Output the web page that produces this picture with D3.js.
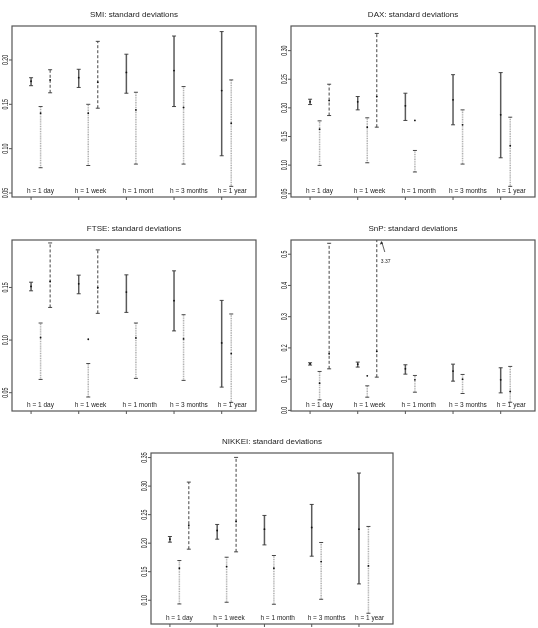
<!DOCTYPE html>
<html>
<head>
<meta charset="utf-8">
<script src="https://cdn.jsdelivr.net/npm/d3@7"></script>
<style>
body { margin: 0; background: #fff; }
svg { display: block; will-change: transform; opacity: 0.999; }
text { font-family: "Liberation Sans", Arial, sans-serif; fill: #222; }
</style>
</head>
<body>
<script>
var width = 538, height = 628;

// horizon labels (SMI panel has the truncated one)
var horizons = ['h = 1 day', 'h = 1 week', 'h = 1 month', 'h = 3 months', 'h = 1 year'];
var smiHorizons = ['h = 1 day', 'h = 1 week', 'h = 1 mont', 'h = 3 months', 'h = 1 year'];

// each entry: [estimate, lower, upper], null = no bar
var smiSolid  = [[0.176, 0.171, 0.180], [0.180, 0.169, 0.1895], [0.186, 0.1625, 0.2065], [0.188, 0.1475, 0.227], [0.1655, 0.092, 0.232]];
var smiDotted = [[0.140, 0.0785, 0.1475], [0.140, 0.081, 0.150], [0.1437, 0.0826, 0.1636], [0.1464, 0.0826, 0.170], [0.1287, 0.0575, 0.1775]];
var smiDashed = [[0.1775, 0.163, 0.189], [0.175, 0.1456, 0.221], null, null, null];
var smiTicks  = [0.05, 0.10, 0.15, 0.20];

var daxSolid  = [[0.2105, 0.2058, 0.2151], [0.2105, 0.1965, 0.2198], [0.2035, 0.178, 0.2256], [0.214, 0.1704, 0.258], [0.1878, 0.1128, 0.2616]];
var daxDotted = [[0.1628, 0.0995, 0.1773], [0.1663, 0.1041, 0.1826], [0.178, 0.088, 0.1256], [0.1704, 0.1018, 0.1965], [0.1338, 0.0629, 0.1837]];
var daxDashed = [[0.2128, 0.1866, 0.2413], [0.2198, 0.1663, 0.330], null, null, null];
var daxTicks  = [0.05, 0.10, 0.15, 0.20, 0.25, 0.30];

var ftseSolid  = [[0.151, 0.1468, 0.155], [0.1535, 0.144, 0.1617], [0.1456, 0.1263, 0.162], [0.1374, 0.1087, 0.1658], [0.0973, 0.0553, 0.1377]];
var ftseDotted = [[0.1024, 0.0626, 0.1162], [0.1008, 0.0459, 0.0777], [0.102, 0.0636, 0.1162], [0.1011, 0.0617, 0.1241], [0.0872, 0.0408, 0.1248]];
var ftseDashed = [[0.1557, 0.131, 0.1923], [0.1497, 0.1254, 0.1857], null, null, null];
var ftseTicks  = [0.05, 0.10, 0.15];

var snpSolid  = [[0.149, 0.145, 0.1525], [0.148, 0.1386, 0.1546], [0.133, 0.116, 0.146], [0.1257, 0.0936, 0.148], [0.0979, 0.056, 0.1364]];
var snpDotted = [[0.087, 0.0336, 0.1246], [0.1107, 0.0422, 0.0786], [0.0979, 0.0582, 0.1118], [0.10, 0.054, 0.115], [0.0604, 0.026, 0.1407]];
var snpDashed = [[0.181, 0.133, 0.535], [0.189, 0.1064, 3.37], null, null, null];
var snpTicks  = [0.0, 0.1, 0.2, 0.3, 0.4, 0.5];

var nikSolid  = [[0.207, 0.2018, 0.2117], [0.2222, 0.207, 0.2328], [0.2246, 0.197, 0.2486], [0.2275, 0.1772, 0.2679], [0.2246, 0.1286, 0.3229]];
var nikDotted = [[0.1561, 0.0935, 0.1696], [0.159, 0.0965, 0.1754], [0.1561, 0.093, 0.1784], [0.1678, 0.1017, 0.2012], [0.1602, 0.0772, 0.2293]];
var nikDashed = [[0.2316, 0.1895, 0.307], [0.238, 0.1848, 0.3503], null, null, null];
var nikTicks  = [0.10, 0.15, 0.20, 0.25, 0.30, 0.35];

// line styles of the three estimators
var styles = [
  {off: 0,   color: '#5a5a5a', width: 1.5, dash: null},
  {off: 0.2, color: '#b0b0b0', width: 1.5, dash: '1,0.7'},
  {off: 0.4, color: '#444',    width: 1,   dash: '3,2'}
];

var panels = [
  {title: 'SMI: standard deviations', labels: smiHorizons, ticks: smiTicks, fmt: '.2f', domain: [0.0455, 0.2383], box: [12, 26, 256, 197], data: [smiSolid, smiDotted, smiDashed]},
  {title: 'DAX: standard deviations', labels: horizons, ticks: daxTicks, fmt: '.2f', domain: [0.0443, 0.343], box: [291, 26, 535, 197], data: [daxSolid, daxDotted, daxDashed]},
  {title: 'FTSE: standard deviations', labels: horizons, ticks: ftseTicks, fmt: '.2f', domain: [0.0326, 0.1951], box: [12, 240, 256, 411], data: [ftseSolid, ftseDotted, ftseDashed]},
  {title: 'SnP: standard deviations', labels: horizons, ticks: snpTicks, fmt: '.1f', domain: [-0.002, 0.5455], box: [291, 240, 535, 411], data: [snpSolid, snpDotted, snpDashed]},
  {title: 'NIKKEI: standard deviations', labels: horizons, ticks: nikTicks, fmt: '.2f', domain: [0.0584, 0.358], box: [151, 453, 393, 624], data: [nikSolid, nikDotted, nikDashed]}
];

var svg = d3.select('body').append('svg').attr('width', width).attr('height', height);
svg.append('rect').attr('width', width).attr('height', height).attr('fill', '#fff');

panels.forEach(function(p) {
  var x = d3.scaleLinear().domain([0.6, 5.72]).range([p.box[0], p.box[2]]);
  var y = d3.scaleLinear().domain(p.domain).range([p.box[3], p.box[1]]);
  var g = svg.append('g');
  var top = y.range()[1], bottom = y.range()[0];

  // title
  g.append('text')
    .attr('x', (p.box[0] + p.box[2]) / 2).attr('y', p.box[1] - 9)
    .attr('text-anchor', 'middle').style('font-size', '8px')
    .text(p.title);

  // frame
  g.append('rect')
    .attr('x', p.box[0]).attr('y', top)
    .attr('width', p.box[2] - p.box[0]).attr('height', bottom - top)
    .attr('fill', 'none').attr('stroke', '#555').attr('stroke-width', 1.2);

  // y axis ticks and rotated labels
  var yt = g.selectAll('.yt').data(p.ticks).join('g').attr('class', 'yt');
  yt.append('line')
    .attr('x1', p.box[0] - 3).attr('x2', p.box[0])
    .attr('y1', function(d) { return y(d); }).attr('y2', function(d) { return y(d); })
    .attr('stroke', '#555');
  yt.append('text')
    .attr('transform', function(d) { return 'translate(' + (p.box[0] - 4) + ',' + y(d) + ') rotate(-90) scale(0.62,1)'; })
    .attr('text-anchor', 'middle').style('font-size', '8.5px')
    .text(function(d) { return d3.format(p.fmt)(d); });

  // x ticks at the groups
  g.selectAll('.xt').data(d3.range(1, 6)).join('line').attr('class', 'xt')
    .attr('x1', function(d) { return x(d); }).attr('x2', function(d) { return x(d); })
    .attr('y1', bottom).attr('y2', bottom + 3)
    .attr('stroke', '#555');

  // horizon labels inside the frame
  g.selectAll('.hl').data(p.labels).join('text').attr('class', 'hl')
    .attr('x', function(d, i) { return x(i + 1) - 4; })
    .attr('y', bottom - 4)
    .style('font-size', '6.5px')
    .text(function(d) { return d; });

  // error bars
  p.data.forEach(function(series, s) {
    var st = styles[s];
    series.forEach(function(d, i) {
      if (!d) return;
      var cx = x(i + 1 + st.off);
      var hiClipped = d[2] > p.domain[1];
      var yHi = hiClipped ? top : y(d[2]);
      g.append('line')
        .attr('x1', cx).attr('x2', cx).attr('y1', y(d[1])).attr('y2', yHi)
        .attr('stroke', st.color).attr('stroke-width', st.width)
        .attr('stroke-dasharray', st.dash);
      var caps = hiClipped ? [d[1]] : [d[1], d[2]];
      caps.forEach(function(v) {
        g.append('line')
          .attr('x1', cx - 2).attr('x2', cx + 2).attr('y1', y(v)).attr('y2', y(v))
          .attr('stroke', '#333').attr('stroke-width', 0.9);
      });
      g.append('circle').attr('cx', cx).attr('cy', y(d[0])).attr('r', 0.9).attr('fill', '#111');
      if (hiClipped) {
        // arrow pointing to the off-scale upper bound
        g.append('line')
          .attr('x1', cx + 8).attr('y1', top + 12).attr('x2', cx + 5).attr('y2', top + 2)
          .attr('stroke', '#333').attr('stroke-width', 0.8);
        g.append('path')
          .attr('d', 'M' + (cx + 4.6) + ',' + (top + 1) + 'l-1.6,3.6l3.2,-0.8z')
          .attr('fill', '#333');
        g.append('text')
          .attr('x', cx + 4).attr('y', top + 23)
          .style('font-size', '5px')
          .text(d3.format('.2f')(d[2]));
      }
    });
  });
});
console.log('ready..');
</script>
</body>
</html>
